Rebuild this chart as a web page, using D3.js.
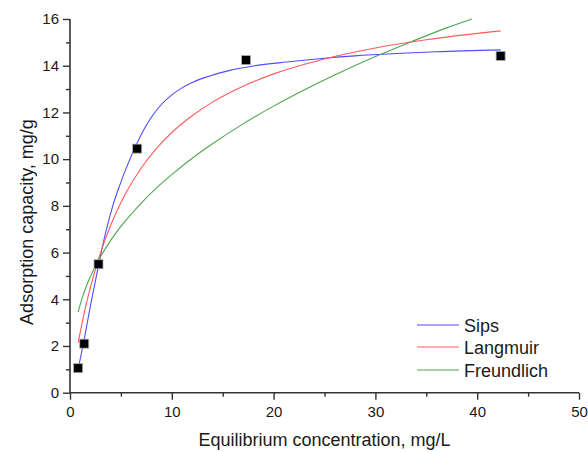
<!DOCTYPE html>
<html><head><meta charset="utf-8">
<script src="https://cdn.jsdelivr.net/npm/d3@7"></script>
<style>body{margin:0;background:#fff} svg{display:block}</style>
</head><body>
<svg id="chart" width="588" height="452"></svg>
<script>
// Experimental points
const expX = [0.8, 1.4, 2.8, 6.6, 17.3, 42.3];
const expY = [1.05, 2.1, 5.5, 10.45, 14.24, 14.42];
// Fitted curves
const sipsX = [0.8, 1.4, 2.0, 2.8, 3.5, 4.2, 4.9, 5.6, 6.55, 7.3, 8.2, 9.0, 10, 11, 12, 13.5, 15.7, 18, 21.3, 24.5, 28, 32, 36, 42.3];
const sipsY = [1.0, 2.3, 3.7, 5.45, 6.85, 8.0, 8.9, 9.7, 10.65, 11.3, 11.92, 12.35, 12.75, 13.05, 13.28, 13.53, 13.8, 13.99, 14.16, 14.3, 14.42, 14.52, 14.6, 14.68];
const langX = [0.8, 1.2, 1.6, 2, 2.8, 3.5, 4.5, 5.5, 7, 8.5, 10, 12, 14, 17, 20, 25, 30, 35, 42.3];
const langY = [2.13, 3.01, 3.80, 4.50, 5.72, 6.61, 7.68, 8.56, 9.62, 10.46, 11.14, 11.86, 12.44, 13.12, 13.65, 14.29, 14.76, 15.11, 15.49];
const freuX = [0.8, 1.2, 1.6, 2, 2.8, 4, 5, 6, 7, 8.5, 10, 12, 14, 17, 20, 23, 26, 30, 33.6, 37, 39.5];
const freuY = [3.46, 4.06, 4.55, 4.96, 5.67, 6.52, 7.12, 7.64, 8.12, 8.77, 9.34, 10.04, 10.66, 11.51, 12.27, 12.96, 13.60, 14.39, 15.04, 15.62, 16.0];
const seriesNames = ["Sips", "Langmuir", "Freundlich"];
const seriesColors = ["#4d4dff", "#ff5a5a", "#4fa64f"];
// Ticks
const xMajor = [0, 10, 20, 30, 40, 50];
const xMinor = [5, 15, 25, 35, 45];
const yMajor = [0, 2, 4, 6, 8, 10, 12, 14, 16];
const yMinor = [1, 3, 5, 7, 9, 11, 13, 15];
const xTitle = "Equilibrium concentration, mg/L";
const yTitle = "Adsorption capacity, mg/g";

const FONT = "'Liberation Sans', Arial, sans-serif";
const svg = d3.select("#chart");
const x = d3.scaleLinear().domain([0, 50]).range([70, 579]);
const y = d3.scaleLinear().domain([0, 16]).range([392.7, 19]);
const axisColor = "#333";

// curves
const series = [
  {name: seriesNames[0], xs: sipsX, ys: sipsY, color: seriesColors[0]},
  {name: seriesNames[1], xs: langX, ys: langY, color: seriesColors[1]},
  {name: seriesNames[2], xs: freuX, ys: freuY, color: seriesColors[2]}
];
const line = d3.line().x(d => x(d[0])).y(d => y(d[1])).curve(d3.curveMonotoneX);
series.forEach(s => {
  svg.append("path")
    .datum(s.xs.map((v, i) => [v, s.ys[i]]))
    .attr("d", line)
    .attr("fill", "none")
    .attr("stroke", s.color)
    .attr("stroke-width", 1.1);
});

// axes
function styleAxis(g) {
  g.select(".domain").remove();
  g.selectAll(".tick line").attr("stroke", axisColor).attr("stroke-width", 1.4);
  g.selectAll(".tick text").attr("fill", "#1a1a1a").style("font-family", FONT).style("font-size", "15px");
}
const gx = svg.append("g").attr("transform", `translate(0,${y(0)})`)
  .call(d3.axisBottom(x).tickValues(xMajor).tickSize(7).tickPadding(7).tickFormat(d3.format("d")));
styleAxis(gx);
const gxm = svg.append("g").attr("transform", `translate(0,${y(0)})`)
  .call(d3.axisBottom(x).tickValues(xMinor).tickSize(4).tickFormat(""));
styleAxis(gxm);
const gy = svg.append("g").attr("transform", `translate(${x(0)},0)`)
  .call(d3.axisLeft(y).tickValues(yMajor).tickSize(7).tickPadding(4).tickFormat(d3.format("d")));
styleAxis(gy);
const gym = svg.append("g").attr("transform", `translate(${x(0)},0)`)
  .call(d3.axisLeft(y).tickValues(yMinor).tickSize(4).tickFormat(""));
styleAxis(gym);

// axis lines
svg.append("line").attr("x1", x(0)).attr("x2", x(50)).attr("y1", y(0)).attr("y2", y(0))
  .attr("stroke", axisColor).attr("stroke-width", 1.6);
svg.append("line").attr("x1", x(0)).attr("x2", x(0)).attr("y1", y(0)).attr("y2", y(16))
  .attr("stroke", axisColor).attr("stroke-width", 1.6);

// points
svg.append("g").selectAll("rect").data(expX.map((v, i) => [v, expY[i]])).join("rect")
  .attr("x", d => x(d[0]) - 4.5).attr("y", d => y(d[1]) - 4.5)
  .attr("width", 9).attr("height", 9)
  .attr("fill", "#000").attr("stroke", "#aaa").attr("stroke-width", 0.8);

// titles
svg.append("text").attr("x", (x(0) + x(50)) / 2).attr("y", 446)
  .attr("text-anchor", "middle").style("font-family", FONT).style("font-size", "18px")
  .attr("fill", "#1a1a1a").text(xTitle);
svg.append("text").attr("transform", "translate(33,222) rotate(-90)")
  .attr("text-anchor", "middle").style("font-family", FONT).style("font-size", "18px")
  .attr("fill", "#1a1a1a").text(yTitle);

// legend
const legend = svg.append("g");
series.forEach((s, i) => {
  const ly = [325, 347, 370][i];
  legend.append("line").attr("x1", 417).attr("x2", 459).attr("y1", ly).attr("y2", ly)
    .attr("stroke", s.color).attr("stroke-width", 1.1);
  legend.append("text").attr("x", 464).attr("y", ly + 6.5)
    .style("font-family", FONT).style("font-size", "18px").attr("fill", "#1a1a1a").text(s.name);
});
</script>
</body></html>
